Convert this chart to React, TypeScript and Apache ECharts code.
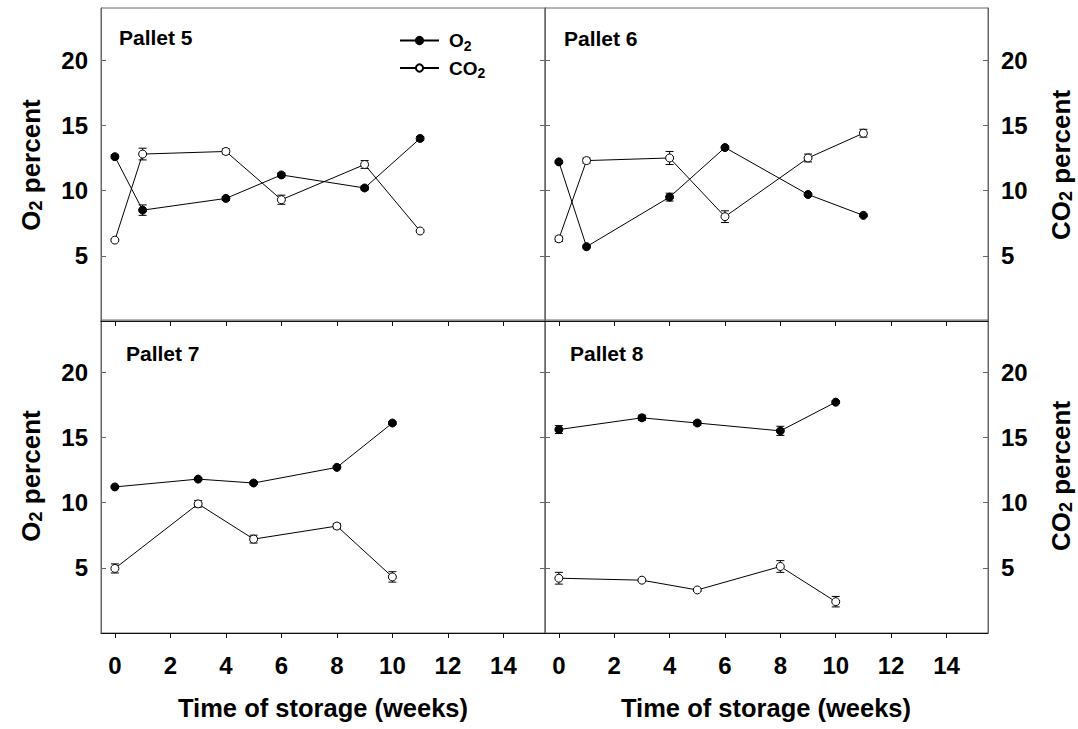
import React, { useEffect, useRef } from "react";
import * as echarts from "echarts";

const FONT = '"Liberation Sans", Arial, Helvetica, sans-serif';

// ---- data ----
const weeksA = [0, 1, 4, 6, 9, 11]; // pallets 5 and 6
const weeksB = [0, 3, 5, 8, 10]; // pallets 7 and 8

const p5O2 = [12.6, 8.5, 9.4, 11.2, 10.2, 14.0];
const p5O2Err = [0.15, 0.4, 0.15, 0.15, 0.15, 0.15];
const p5CO2 = [6.2, 12.8, 13.0, 9.3, 12.0, 6.9];
const p5CO2Err = [0.1, 0.45, 0.2, 0.35, 0.3, 0.1];

const p6O2 = [12.2, 5.7, 9.5, 13.3, 9.7, 8.1];
const p6O2Err = [0.1, 0.1, 0.3, 0.1, 0.1, 0.1];
const p6CO2 = [6.3, 12.3, 12.5, 8.0, 12.5, 14.4];
const p6CO2Err = [0.2, 0.2, 0.5, 0.45, 0.3, 0.3];

const p7O2 = [11.2, 11.8, 11.5, 12.7, 16.1];
const p7O2Err = [0.1, 0.1, 0.1, 0.1, 0.1];
const p7CO2 = [4.95, 9.9, 7.2, 8.2, 4.3];
const p7CO2Err = [0.35, 0.25, 0.3, 0.2, 0.4];

const p8O2 = [15.6, 16.5, 16.1, 15.5, 17.7];
const p8O2Err = [0.3, 0.2, 0.15, 0.35, 0.1];
const p8CO2 = [4.2, 4.05, 3.3, 5.1, 2.4];
const p8CO2Err = [0.45, 0.1, 0.1, 0.45, 0.4];

const panelNames = ["Pallet 5", "Pallet 6", "Pallet 7", "Pallet 8"];
const xTicks = [0, 2, 4, 6, 8, 10, 12, 14];
const yTicks = [5, 10, 15, 20];
const xTitle = "Time of storage (weeks)";

const panels = [
  { weeks: weeksA, o2: p5O2, o2e: p5O2Err, co2: p5CO2, co2e: p5CO2Err },
  { weeks: weeksA, o2: p6O2, o2e: p6O2Err, co2: p6CO2, co2e: p6CO2Err },
  { weeks: weeksB, o2: p7O2, o2e: p7O2Err, co2: p7CO2, co2e: p7CO2Err },
  { weeks: weeksB, o2: p8O2, o2e: p8O2Err, co2: p8CO2, co2e: p8CO2Err },
];

// ---- layout ----
const grids = [
  { left: 101, top: 8, width: 444, height: 313 },
  { left: 545, top: 8, width: 443, height: 313 },
  { left: 101, top: 320, width: 444, height: 313 },
  { left: 545, top: 320, width: 443, height: 313 },
];

const labelStyle = { fontFamily: FONT, fontWeight: "bold" as const, fontSize: 24, color: "#000" };

function errRender(params: any, api: any) {
  const x = api.value(0);
  const y = api.value(1);
  const e = api.value(2);
  const t = api.coord([x, y + e]);
  const b = api.coord([x, y - e]);
  const hw = 4;
  const st = { stroke: "#000", lineWidth: 1 };
  return {
    type: "group",
    children: [
      { type: "line", shape: { x1: t[0], y1: t[1], x2: b[0], y2: b[1] }, style: st },
      { type: "line", shape: { x1: t[0] - hw, y1: t[1], x2: t[0] + hw, y2: t[1] }, style: st },
      { type: "line", shape: { x1: b[0] - hw, y1: b[1], x2: b[0] + hw, y2: b[1] }, style: st },
    ],
  };
}

const titleRich = {
  a: { fontFamily: FONT, fontWeight: "bold" as const, fontSize: 26, lineHeight: 28, fill: "#000" },
  s: { fontFamily: FONT, fontWeight: "bold" as const, fontSize: 18, lineHeight: 18, verticalAlign: "bottom" as const, fill: "#000" },
};

export default function App() {
  const ref = useRef<HTMLDivElement>(null);
  useEffect(() => {
    if (!ref.current) return;
    const chart = echarts.init(ref.current, undefined, { renderer: "svg" });

    const xAxis: any[] = [];
    const yAxis: any[] = [];
    const series: any[] = [];

    grids.forEach((g, i) => {
      const bottomRow = i >= 2;
      xAxis.push({
        type: "value",
        gridIndex: i,
        min: -0.5,
        max: 15.5,
        axisLine: { show: true, onZero: false, lineStyle: { color: "#111", width: 1 } },
        axisTick: { show: true, inside: false, length: 5, lineStyle: { color: "#111" }, customValues: xTicks },
        axisLabel: {
          show: bottomRow,
          customValues: xTicks,
          margin: 20,
          ...labelStyle,
        },
        splitLine: { show: false },
      });
      const leftLabels = i % 2 === 0;
      yAxis.push({
        type: "value",
        gridIndex: i,
        position: "left",
        min: 0,
        max: 24,
        axisLine: { show: true, onZero: false, lineStyle: { color: "#666", width: 1 } },
        axisTick: { show: true, inside: true, length: 5, lineStyle: { color: "#666" }, customValues: yTicks },
        axisLabel: { show: leftLabels, customValues: yTicks, margin: 13, ...labelStyle },
        splitLine: { show: false },
      });
      yAxis.push({
        type: "value",
        gridIndex: i,
        position: "right",
        min: 0,
        max: 24,
        axisLine: { show: true, onZero: false, lineStyle: { color: "#666", width: 1 } },
        axisTick: { show: true, inside: true, length: 5, lineStyle: { color: "#666" }, customValues: yTicks },
        axisLabel: { show: !leftLabels, customValues: yTicks, margin: 13, ...labelStyle },
        splitLine: { show: false },
      });

      const p = panels[i];
      series.push({
        type: "custom",
        xAxisIndex: i,
        yAxisIndex: 2 * i,
        renderItem: errRender,
        encode: { x: 0, y: 1 },
        z: 1,
        silent: true,
        data: p.weeks.map((w, k) => [w, p.o2[k], p.o2e[k]]),
      });
      series.push({
        type: "custom",
        xAxisIndex: i,
        yAxisIndex: 2 * i + 1,
        renderItem: errRender,
        encode: { x: 0, y: 1 },
        z: 1,
        silent: true,
        data: p.weeks.map((w, k) => [w, p.co2[k], p.co2e[k]]),
      });
      series.push({
        type: "line",
        name: "O2",
        xAxisIndex: i,
        yAxisIndex: 2 * i,
        z: 3,
        symbol: "circle",
        symbolSize: 8,
        itemStyle: { color: "#000", borderColor: "#000", borderWidth: 1 },
        lineStyle: { color: "#000", width: 1 },
        data: p.weeks.map((w, k) => [w, p.o2[k]]),
      });
      series.push({
        type: "line",
        name: "CO2",
        xAxisIndex: i,
        yAxisIndex: 2 * i + 1,
        z: 3,
        symbol: "circle",
        symbolSize: 8,
        itemStyle: { color: "#fff", borderColor: "#000", borderWidth: 1 },
        lineStyle: { color: "#000", width: 1 },
        data: p.weeks.map((w, k) => [w, p.co2[k]]),
      });
    });

    const panelPos = [
      [119, 37],
      [564, 38],
      [126, 353],
      [570, 353],
    ];

    const graphic: any[] = [];
    panelNames.forEach((n, i) => {
      graphic.push({
        type: "text",
        x: panelPos[i][0],
        y: panelPos[i][1],
        style: {
          text: n,
          fontFamily: FONT,
          fontWeight: "bold",
          fontSize: 21,
          fill: "#000",
          align: "left",
          verticalAlign: "middle",
        },
      });
    });
    const yTitles = [
      { x: 31, y: 165, t: "{a|O}{s|2}{a| percent}" },
      { x: 31, y: 476, t: "{a|O}{s|2}{a| percent}" },
      { x: 1061, y: 165, t: "{a|CO}{s|2}{a| percent}" },
      { x: 1061, y: 476, t: "{a|CO}{s|2}{a| percent}" },
    ];
    yTitles.forEach((yt) => {
      graphic.push({
        type: "text",
        x: yt.x,
        y: yt.y,
        rotation: Math.PI / 2,
        style: { text: yt.t, rich: titleRich, align: "center", verticalAlign: "middle" },
      });
    });
    [323, 766].forEach((cx) => {
      graphic.push({
        type: "text",
        x: cx,
        y: 708,
        style: {
          text: xTitle,
          fontFamily: FONT,
          fontWeight: "bold",
          fontSize: 25.5,
          fill: "#000",
          align: "center",
          verticalAlign: "middle",
        },
      });
    });

    chart.setOption({
      animation: false,
      backgroundColor: "#fff",
      grid: grids.map((g) => ({
        ...g,
        show: true,
        borderColor: "#666",
        borderWidth: 1,
        backgroundColor: "transparent",
        containLabel: false,
        outerBoundsMode: "none",
      })),
      xAxis,
      yAxis,
      series,
      graphic,
      legend: {
        data: ["O2", "CO2"],
        left: 399,
        top: 31,
        orient: "vertical",
        padding: 0,
        itemWidth: 39,
        itemHeight: 9,
        itemGap: 6,
        selectedMode: false,
        formatter: (name: string) => (name === "O2" ? "{a|O}{s|2}" : "{a|CO}{s|2}"),
        textStyle: {
          padding: [0, 0, 0, 5],
          rich: {
            a: { fontFamily: FONT, fontWeight: "bold", fontSize: 19, lineHeight: 24, color: "#000" },
            s: { fontFamily: FONT, fontWeight: "bold", fontSize: 14, lineHeight: 14, verticalAlign: "bottom", color: "#000" },
          },
        },
      },
    });

    return () => chart.dispose();
  }, []);

  return (
    <div
      ref={ref}
      style={{ position: "absolute", left: 0, top: 0, width: 1078, height: 729, background: "#fff" }}
    />
  );
}
